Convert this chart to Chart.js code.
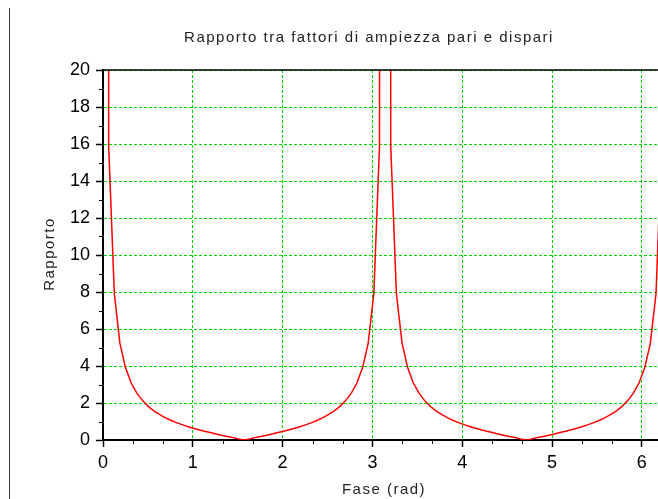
<!DOCTYPE html>
<html>
<head>
<meta charset="utf-8">
<script src="https://cdn.jsdelivr.net/npm/chart.js@4.4.1/dist/chart.umd.min.js"></script>
<style>
  html, body { margin: 0; padding: 0; background: #fff; overflow: hidden; }
  #wrap { position: relative; width: 658px; height: 499px; }
  #frame { position: absolute; left: 9px; top: 8px; width: 1px; height: 491px; background: #333; }
</style>
</head>
<body>
<div id="wrap">
  <canvas id="c" width="658" height="499"></canvas>
  <div id="frame"></div>
</div>
<script>
// fase (rad) dei campioni
const phase = [
  0, 0.063, 0.126, 0.188, 0.251, 0.314, 0.377, 0.440, 0.503, 0.565,
  0.628, 0.691, 0.754, 0.817, 0.880, 0.942, 1.005, 1.068, 1.131, 1.194,
  1.257, 1.319, 1.382, 1.445, 1.508, 1.571, 1.634, 1.696, 1.759, 1.822,
  1.885, 1.948, 2.011, 2.073, 2.136, 2.199, 2.262, 2.325, 2.388, 2.450,
  2.513, 2.576, 2.639, 2.702, 2.765, 2.827, 2.890, 2.953, 3.016, 3.079,
  3.142, 3.204, 3.267, 3.330, 3.393, 3.456, 3.519, 3.581, 3.644, 3.707,
  3.770, 3.833, 3.896, 3.958, 4.021, 4.084, 4.147, 4.210, 4.273, 4.335,
  4.398, 4.461, 4.524, 4.587, 4.650, 4.712, 4.775, 4.838, 4.901, 4.964,
  5.027, 5.089, 5.152, 5.215, 5.278, 5.341, 5.404, 5.466, 5.529, 5.592,
  5.655, 5.718, 5.781, 5.843, 5.906, 5.969, 6.032, 6.095, 6.158, 6.220,
  6.283
];
// rapporto pari/dispari (i picchi escono fuori scala)
const ratio = [
  1000, 15.9, 7.92, 5.24, 3.90, 3.08, 2.53, 2.13, 1.82, 1.58,
  1.38, 1.21, 1.07, 0.94, 0.83, 0.73, 0.64, 0.55, 0.47, 0.40,
  0.33, 0.26, 0.19, 0.13, 0.06, 0, 0.06, 0.13, 0.19, 0.26,
  0.33, 0.40, 0.47, 0.55, 0.64, 0.73, 0.83, 0.94, 1.07, 1.21,
  1.38, 1.58, 1.82, 2.13, 2.53, 3.08, 3.90, 5.24, 7.92, 15.9,
  1000, 15.9, 7.92, 5.24, 3.90, 3.08, 2.53, 2.13, 1.82, 1.58,
  1.38, 1.21, 1.07, 0.94, 0.83, 0.73, 0.64, 0.55, 0.47, 0.40,
  0.33, 0.26, 0.19, 0.13, 0.06, 0, 0.06, 0.13, 0.19, 0.26,
  0.33, 0.40, 0.47, 0.55, 0.64, 0.73, 0.83, 0.94, 1.07, 1.21,
  1.38, 1.58, 1.82, 2.13, 2.53, 3.08, 3.90, 5.24, 7.92, 15.9,
  1000
];
const xMinor = [0.333, 0.667, 1.333, 1.667, 2.333, 2.667, 3.333, 3.667, 4.333, 4.667, 5.333, 5.667];
const yMinor = [1, 3, 5, 7, 9, 11, 13, 15, 17, 19];

const FONT = '"Liberation Sans", Arial, sans-serif';
const green = '#00d800';

// assi, tacche secondarie e titoli
const decor = {
  id: 'decor',
  afterDraw(chart) {
    const { ctx, chartArea: a, scales: { x, y } } = chart;
    ctx.save();
    ctx.strokeStyle = '#000';
    ctx.lineWidth = 1.5;
    ctx.beginPath();
    ctx.moveTo(a.left, a.top); ctx.lineTo(a.right, a.top);
    ctx.stroke();
    ctx.lineWidth = 1;
    ctx.beginPath();
    xMinor.forEach(v => {
      const px = Math.round(x.getPixelForValue(v)) + 0.5;
      ctx.moveTo(px, a.bottom); ctx.lineTo(px, a.bottom + 4);
    });
    yMinor.forEach(v => {
      const py = Math.round(y.getPixelForValue(v)) + 0.5;
      ctx.moveTo(a.left, py); ctx.lineTo(a.left - 4, py);
    });
    ctx.stroke();

    ctx.fillStyle = '#222';
    ctx.textAlign = 'center';
    ctx.textBaseline = 'middle';
    ctx.font = '15px ' + FONT;
    ctx.letterSpacing = '1.5px';
    ctx.fillText('Rapporto tra fattori di ampiezza pari e dispari', 369, 38);
    ctx.fillText('Fase (rad)', 384, 490);
    ctx.translate(50, 254);
    ctx.rotate(-Math.PI / 2);
    ctx.fillText('Rapporto', 0, 0);
    ctx.restore();
  }
};

new Chart(document.getElementById('c'), {
  type: 'scatter',
  data: {
    datasets: [{
      data: phase.map((p, i) => ({ x: p, y: ratio[i] })),
      showLine: true,
      borderColor: '#ff0000',
      borderWidth: 1.5,
      pointRadius: 0,
      tension: 0
    }]
  },
  options: {
    responsive: false,
    animation: false,
    layout: { padding: { top: 70, right: 0, left: 0, bottom: 0 } },
    plugins: { legend: { display: false }, tooltip: { enabled: false } },
    scales: {
      x: {
        type: 'linear',
        min: 0,
        max: 6.18,
        afterFit: s => { s.height = 59; },
        ticks: { stepSize: 1, includeBounds: false, color: '#000', padding: 5, font: { size: 18, family: FONT } },
        grid: { color: green, lineWidth: 1, tickColor: '#000', tickLength: 7, tickWidth: 1.5 },
        border: { color: '#000', width: 2, dash: [3, 2] }
      },
      y: {
        min: 0,
        max: 20,
        afterFit: s => { s.width = 103; },
        ticks: { stepSize: 2, color: '#000', padding: 6, font: { size: 18, family: FONT } },
        grid: { color: green, lineWidth: 1, tickColor: '#000', tickLength: 7, tickWidth: 1.5 },
        border: { color: '#000', width: 2, dash: [3, 2] }
      }
    }
  },
  plugins: [decor]
});
</script>
</body>
</html>
